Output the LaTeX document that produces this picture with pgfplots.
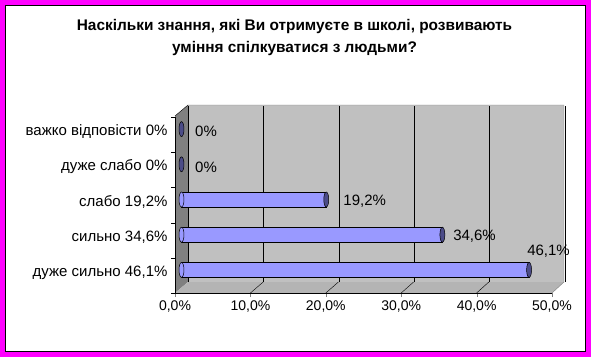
\documentclass[border=0pt]{standalone}
\usepackage{fontspec}
\setmainfont{Liberation Sans}
\usepackage{pgfplots}
\usepackage{pgfplotstable}
\pgfplotsset{compat=1.18}
\definecolor{mag}{HTML}{FF00FF}
\definecolor{backwall}{HTML}{C0C0C0}
\definecolor{sidewall}{HTML}{808080}
\definecolor{floorc}{HTML}{B4B4B4}
\definecolor{barmain}{HTML}{9999FF}
\definecolor{capc}{HTML}{4C4C88}

\pgfplotstableread{
cat val lab dx dy
4 0 0 13.5 -2.7
3 0 0 13.5 -2.6
2 19.2 19,2 17 -1.5
1 34.6 34,6 10.7 -1.5
0 46.1 46,1 -2 19
}\labtable

\pgfplotstableread{
cat val
2 19.2
1 34.6
0 46.1
}\bartable

\pgfplotstableread{
cat val
4 0
3 0
2 19.2
1 34.6
0 46.1
}\captable

\begin{document}
\begin{tikzpicture}[x=1pt,y=1pt]
% frame
\fill[mag] (0,0) rectangle (591,357);
\fill[white,draw=black,line width=1.5pt] (5.5,5.5) rectangle (585.5,351.5);
% title
\node[font=\bfseries\fontsize{15.4}{18}\selectfont, anchor=base, inner sep=0pt] at (294.5,357-31) {Наскільки знання, які Ви отримуєте в школі, розвивають};
\node[font=\bfseries\fontsize{15.4}{18}\selectfont, anchor=base, inner sep=0pt] at (294.5,357-52.5) {уміння спілкуватися з людьми?};
% walls
\fill[backwall] (188,357-105) rectangle (564,357-282);
\fill[sidewall] (175,357-116) -- (188,357-105) -- (188,357-282) -- (175,357-293) -- cycle;
\fill[floorc] (175,357-293) -- (188,357-282) -- (564,357-282) -- (552,357-293) -- cycle;
\draw[sidewall] (188,357-105) -- (564,357-105) -- (564,357-282) -- (552,357-293);
\draw[black] (175,357-116) -- (188,357-105);
\foreach \k in {1,...,4} {
  \draw[black] ({175+75.4*\k},357-293) -- ({188+75.2*\k},357-282);
}
\begin{axis}[
  at={(175pt,64pt)}, anchor=south west,
  scale only axis, width=377pt, height=176pt,
  xmin=0, xmax=50, ymin=-0.5, ymax=4.5,
  axis x line*=bottom, axis y line*=left,
  axis line style={-, black},
  xtick={0,10,...,50},
  xticklabels={{0,0\%},{10,0\%},{20,0\%},{30,0\%},{40,0\%},{50,0\%}},
  xticklabel style={font=\fontsize{14}{16}\selectfont},
  ytick={0,1,2,3,4},
  yticklabels={{дуже сильно 46,1\%},{сильно 34,6\%},{слабо 19,2\%},{дуже слабо 0\%},{важко відповісти 0\%}},
  yticklabel style={font=\fontsize{15}{17}\selectfont, yshift=3pt},
  minor ytick={-0.5,0.5,...,4.5},
  major y tick style={draw=none},
  minor y tick style={draw=black},
  tick align=outside,
  major tick length=4pt, minor tick length=4pt,
  xmajorgrids,
  major grid style={black, xshift=13pt, yshift=11pt},
  clip=false,
]
% left rounded ends
\addplot[only marks, mark=*, mark size=7.5pt, mark options={xscale=0.33, fill=barmain, draw=black, line width=0.5pt}, xshift=6.5pt, yshift=5.5pt] table[x=val, y=cat, x expr=0] \bartable;
% bars
\addplot[xbar, bar width=15pt, draw=black, line width=0.5pt, fill=barmain, xshift=6.5pt, yshift=5.5pt] table[x=val, y=cat] \bartable;
% end caps
\addplot[only marks, mark=*, mark size=7.5pt, mark options={xscale=0.33, fill=capc, draw=black, line width=0.5pt}, xshift=6.5pt, yshift=5.5pt] table[x=val, y=cat] \captable;
% data labels
\addplot[draw=none, mark=none,
  nodes near coords={\pgfplotspointmeta\%},
  point meta=explicit symbolic,
  visualization depends on={\thisrow{dx} \as \dxv},
  visualization depends on={\thisrow{dy} \as \dyv},
  every node near coord/.append style={anchor=west, inner sep=0pt, font=\fontsize{15}{17}\selectfont, xshift={6.5pt+\dxv pt}, yshift={5.5pt+\dyv pt}},
] table[x=val, y=cat, meta=lab] \labtable;
\end{axis}
\end{tikzpicture}
\end{document}
